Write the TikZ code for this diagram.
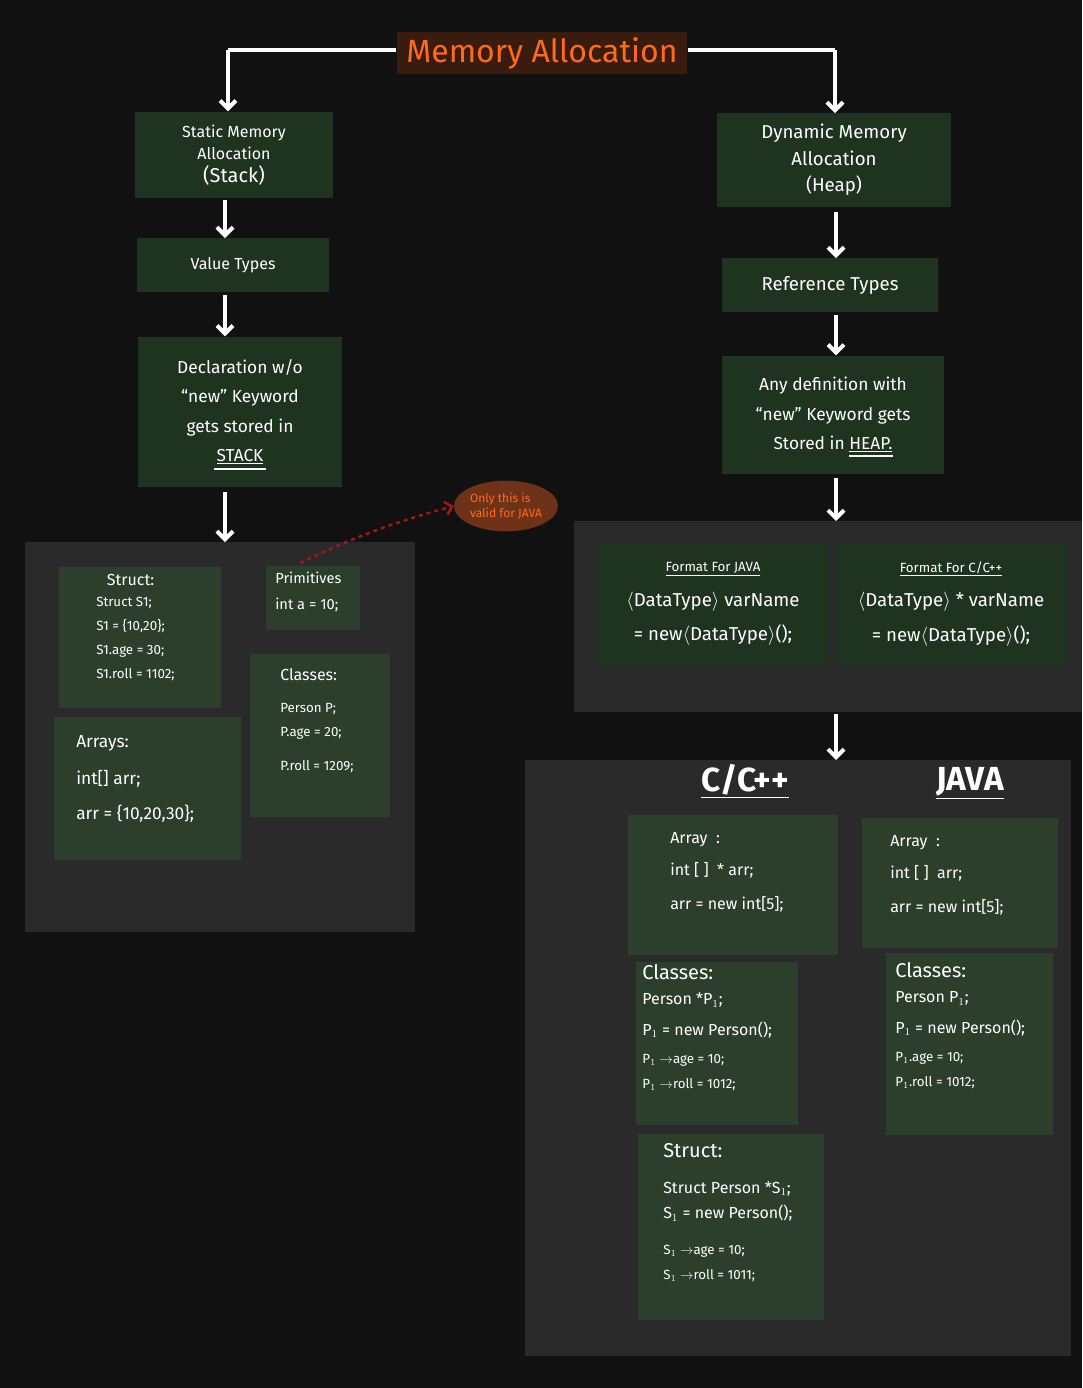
\documentclass[tikz,border=0pt]{standalone}
\usepackage{fontspec}
\setmainfont{Fira Sans}
\usetikzlibrary{arrows.meta,shapes.geometric}
\definecolor{bg}{HTML}{111111}
\definecolor{panel}{HTML}{2A2A2A}
\definecolor{gbox}{HTML}{1E3320}
\definecolor{gbox2}{HTML}{2C3E2C}
\definecolor{orng}{HTML}{FF6A1A}
\definecolor{tbox}{HTML}{3A1C0E}
\definecolor{bub}{HTML}{6E3218}
\definecolor{darr}{HTML}{A01818}
\newcommand\fsA{\fontsize{10}{15}\selectfont}
\newcommand\fsB{\fontsize{12}{19}\selectfont}
\newcommand\fsC{\fontsize{15}{19}\selectfont}
\begin{document}
\begin{tikzpicture}[x=0.75pt,y=-0.75pt,
  box/.style={fill=gbox,draw=none,text=white,align=center,font=\fontsize{12}{17}\selectfont},
  cbox/.style={fill=gbox2,draw=none,text=white,align=left,font=\fontsize{11}{17}\selectfont,anchor=north west,inner sep=0pt},
  arr/.style={white,line width=3pt,-{Straight Barb[length=6pt,width=12pt]}},
  pnl/.style={fill=panel,draw=none}]
\fill[bg] (0,0) rectangle (1082,1388);
\useasboundingbox (0,0) rectangle (1082,1388);
% title
\node[fill=tbox,text=orng,font=\fontsize{24}{28}\selectfont,minimum width=218pt,minimum height=32pt] (title) at (542,53) {Memory Allocation};
\coordinate (tl) at (228,50); \coordinate (tr) at (835,50);
% left column
\node[box,minimum width=148pt,minimum height=65pt] (static) at (234,155) {Static Memory\\Allocation\\\fontsize{15}{18}\selectfont(Stack)};
\node[box,minimum width=144pt,minimum height=40pt] (value) at (233,265) {Value Types};
\node[box,minimum width=153pt,minimum height=113pt,font=\fontsize{13}{22}\selectfont] (decl) at (240,412) {Declaration w/o\\“new” Keyword\\gets stored in\\\underline{STACK}};
\draw[white,line width=0.9pt] (214,469) -- (266,469);
\draw[white,line width=3pt] (title.west |- tl) -- (tl);
\draw[arr] (tl) -- (static.north -| tl);
\draw[arr] (225,200) -- (value.north -| 225,0);
\draw[arr] (225,295) -- (decl.north -| 225,0);
\node[pnl,minimum width=292pt,minimum height=292pt,anchor=north west,inner sep=0pt] (lp) at (25,542) {};
\draw[arr] (225,492) -- (lp.north -| 225,0);
% left panel contents
\fill[gbox2] (59,567) rectangle (221,708);
\node[cbox,font=\fontsize{12}{18}\selectfont] (struct) at (96,574) {\hspace{8pt}Struct:\\[-2pt]\fsA Struct S1;\\\fsA S1 = \{10,20\};\\\fsA S1.age = 30;\\\fsA S1.roll = 1102;};
\fill[gbox2] (266,566) rectangle (360,630);
\node[cbox] (prim) at (275,572) {Primitives\\[2pt]int a = 10;};
\fill[gbox2] (250,654) rectangle (390,817);
\node[cbox,font=\fontsize{12}{18}\selectfont] (classes) at (280,668) {Classes:\\[6pt]\fsA Person P;\\\fsA P.age = 20;\\[8pt]\fsA P.roll = 1209;};
\fill[gbox2] (54,717) rectangle (241,860);
\node[cbox,font=\fontsize{13}{20}\selectfont] (arrays) at (76,735) {Arrays:\\[8pt]int[] arr;\\[6pt]arr = \{10,20,30\};};
\node[ellipse,fill=bub,text=orng,align=left,font=\fontsize{9}{11}\selectfont,minimum width=78pt,minimum height=38pt,inner sep=0pt] (bubble) at (506,506) {Only this is\\valid for JAVA};
\draw[darr,line width=1.8pt,dashed,-{Straight Barb[length=5pt,width=10pt]}] (300,563) to[bend left=5] (bubble.west);
% right column
\node[box,minimum width=176pt,minimum height=70pt,font=\fontsize{14}{20}\selectfont] (dyn) at (834,160) {Dynamic Memory\\Allocation\\(Heap)};
\draw[white,line width=3pt] (title.east |- tr) -- (tr);
\draw[arr] (tr) -- (dyn.north -| tr);
\node[box,minimum width=162pt,minimum height=40pt,font=\fontsize{14}{18}\selectfont] (ref) at (830,285) {Reference Types};
\node[box,minimum width=167pt,minimum height=89pt,font=\fontsize{13}{22}\selectfont] (any) at (833,415) {Any definition with\\“new” Keyword gets\\Stored in \underline{HEAP.}};
\draw[white,line width=0.9pt] (849,456) -- (893,456);
\draw[arr] (836,212) -- (ref.north -| 836,0);
\draw[arr] (836,315) -- (any.north -| 836,0);
\node[pnl,minimum width=381pt,minimum height=143pt,anchor=north west,inner sep=0pt] (rp1) at (574,521) {};
\draw[arr] (836,478) -- (rp1.north -| 836,0);
\fill[gbox] (597,543) rectangle (829,666);
\node[text=white,align=center,font=\fontsize{14}{26}\selectfont] (fj) at (713,604) {{\fontsize{10}{12}\selectfont\underline{Format For JAVA}}\\$\langle$DataType$\rangle$ varName\\= new$\langle$DataType$\rangle$();};
\fill[gbox] (835,543) rectangle (1068,666);
\node[text=white,align=center,font=\fontsize{14}{26}\selectfont] (fc) at (951,604) {{\fontsize{10}{12}\selectfont\underline{Format For C/C++}}\\$\langle$DataType$\rangle$ * varName\\= new$\langle$DataType$\rangle$();};
\node[pnl,minimum width=409pt,minimum height=447pt,anchor=north west,inner sep=0pt] (rp2) at (525,760) {};
\draw[arr] (836,714) -- (rp2.north -| 836,0);
\node[text=white,font=\bfseries\fontsize{25}{28}\selectfont] (hc) at (745,781) {\underline{C/C++}};
\node[text=white,font=\bfseries\fontsize{25}{28}\selectfont] (hj) at (970,783) {\underline{JAVA}};
\fill[gbox2] (628,815) rectangle (838,955);
\node[cbox,font=\fontsize{12}{20}\selectfont] (ca) at (670,832) {Array\ \ :\\[4pt]int [ ] \ * arr;\\[6pt]arr = new int[5];};
\fill[gbox2] (862,818) rectangle (1058,948);
\node[cbox,font=\fontsize{12}{20}\selectfont] (ja) at (890,835) {Array\ \ :\\[4pt]int [ ] \ arr;\\[6pt]arr = new int[5];};
\fill[gbox2] (636,962) rectangle (798,1125);
\node[cbox,font=\fsC] (cc) at (642,964) {Classes:\\\fsB Person *P$_1$;\\[4pt]\fsB P$_1$ = new Person();\\[2pt]\fsA P$_1\rightarrow$age = 10;\\\fsA P$_1\rightarrow$roll = 1012;};
\fill[gbox2] (886,953) rectangle (1053,1135);
\node[cbox,font=\fsC] (jc) at (895,962) {Classes:\\\fsB Person P$_1$;\\[4pt]\fsB P$_1$ = new Person();\\[2pt]\fsA P$_1$.age = 10;\\\fsA P$_1$.roll = 1012;};
\fill[gbox2] (638,1134) rectangle (824,1320);
\node[cbox,font=\fsC] (cs) at (663,1143) {Struct:\\[8pt]\fsB Struct Person *S$_1$;\\\fsB S$_1$ = new Person();\\[8pt]\fsA S$_1\rightarrow$age = 10;\\\fsA S$_1\rightarrow$roll = 1011;};
\end{tikzpicture}
\end{document}
